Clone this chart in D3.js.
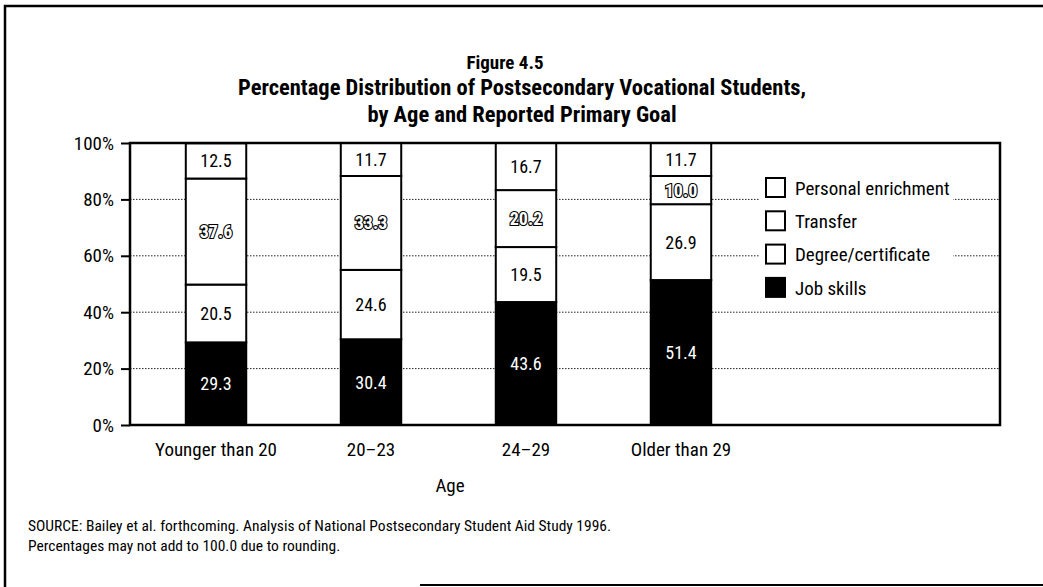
<!DOCTYPE html>
<html>
<head>
<meta charset="utf-8">
<script src="https://cdn.jsdelivr.net/npm/d3@7"></script>
<style>
  html, body { margin: 0; padding: 0; background: #fff; }
  svg { display: block; }
  text { font-family: "Roboto Condensed", "Liberation Sans Narrow", "Arial Narrow", "Open Sans", sans-serif; fill: #000; }
</style>
</head>
<body>
<svg id="chart" width="1043" height="587"></svg>
<script>
// Age groups along the x axis
const categories = ["Younger than 20", "20–23", "24–29", "Older than 29"];
// Primary goal shares (percent) per age group, bottom to top
const jobSkills = [29.3, 30.4, 43.6, 51.4];
const degreeCertificate = [20.5, 24.6, 19.5, 26.9];
const transfer = [37.6, 33.3, 20.2, 10.0];
const personalEnrichment = [12.5, 11.7, 16.7, 11.7];
const seriesNames = ["Job skills", "Degree/certificate", "Transfer", "Personal enrichment"];
const legendOrder = ["Personal enrichment", "Transfer", "Degree/certificate", "Job skills"];
const yTicks = [0, 20, 40, 60, 80, 100];

const rows = categories.map((c, i) => ({
  age: c,
  "Job skills": jobSkills[i],
  "Degree/certificate": degreeCertificate[i],
  "Transfer": transfer[i],
  "Personal enrichment": personalEnrichment[i]
}));

const svg = d3.select("#chart");

// plot frame
const plot = { left: 130, right: 1000, top: 143, bottom: 425 };

const x = d3.scaleBand()
  .domain(categories)
  .range([plot.left, 767])
  .paddingInner(0.61)
  .paddingOuter(0.36);

const y = d3.scaleLinear().domain([0, 100]).range([plot.bottom, plot.top]);

const fillOf = { "Job skills": "#000", "Degree/certificate": "#fff", "Transfer": "#fff", "Personal enrichment": "#fff" };

// outer figure border
svg.append("path")
  .attr("d", "M5,587 L5,6 L1043,6")
  .attr("fill", "none").attr("stroke", "#000").attr("stroke-width", 2.5);
svg.append("line")
  .attr("x1", 420).attr("x2", 1043).attr("y1", 585).attr("y2", 585)
  .attr("stroke", "#000").attr("stroke-width", 2);

// titles
svg.append("text").attr("x", 505).attr("y", 69).attr("text-anchor", "middle")
  .attr("font-size", 19).attr("font-weight", "bold").text("Figure 4.5");
svg.append("text").attr("x", 522).attr("y", 95).attr("text-anchor", "middle")
  .attr("font-size", 22.5).attr("font-weight", "bold")
  .text("Percentage Distribution of Postsecondary Vocational Students,");
svg.append("text").attr("x", 522).attr("y", 122).attr("text-anchor", "middle")
  .attr("font-size", 22.5).attr("font-weight", "bold")
  .text("by Age and Reported Primary Goal");

// dotted gridlines
svg.append("g").selectAll("line")
  .data(yTicks.filter(t => t > 0 && t < 100))
  .join("line")
  .attr("x1", plot.left).attr("x2", plot.right)
  .attr("y1", d => y(d)).attr("y2", d => y(d))
  .attr("stroke", "#222").attr("stroke-width", 1)
  .attr("stroke-dasharray", "1.5,1.5");

// y axis
const yAxis = d3.axisLeft(y).tickValues(yTicks).tickFormat(d => d + "%").tickSize(9).tickPadding(7);
const gy = svg.append("g").attr("transform", `translate(${plot.left},0)`).call(yAxis);
gy.select(".domain").remove();
gy.selectAll(".tick line").attr("stroke", "#000").attr("stroke-width", 2);
gy.selectAll(".tick text").attr("font-size", 19).attr("font-family", null);

// stacked bars
const stack = d3.stack().keys(seriesNames);
const stacked = stack(rows);

const layers = svg.append("g").selectAll("g")
  .data(stacked)
  .join("g");

layers.selectAll("rect")
  .data(d => d.map(v => ({ key: d.key, age: v.data.age, y0: v[0], y1: v[1] })))
  .join("rect")
  .attr("x", d => x(d.age))
  .attr("width", x.bandwidth())
  .attr("y", d => y(d.y1))
  .attr("height", d => y(d.y0) - y(d.y1))
  .attr("fill", d => fillOf[d.key])
  .attr("stroke", "#000")
  .attr("stroke-width", 2);

// value labels; transfer values are set in outlined figures
layers.selectAll("text")
  .data(d => d.map(v => ({ key: d.key, age: v.data.age, y0: v[0], y1: v[1], val: v.data[d.key] })))
  .join("text")
  .attr("x", d => x(d.age) + x.bandwidth() / 2)
  .attr("y", d => y((d.y0 + d.y1) / 2))
  .attr("dy", "0.36em")
  .attr("text-anchor", "middle")
  .attr("font-size", 18)
  .attr("font-weight", d => d.key === "Transfer" ? "bold" : "normal")
  .style("fill", d => d.key === "Job skills" ? "#fff" : (d.key === "Transfer" ? "#fff" : "#000"))
  .attr("stroke", d => d.key === "Transfer" ? "#000" : "none")
  .attr("stroke-width", 2.2)
  .attr("paint-order", "stroke")
  .text(d => d.val.toFixed(1));

// plot border
svg.append("rect")
  .attr("x", plot.left).attr("y", plot.top)
  .attr("width", plot.right - plot.left).attr("height", plot.bottom - plot.top)
  .attr("fill", "none").attr("stroke", "#000").attr("stroke-width", 2.5);

// x axis labels
svg.append("g").selectAll("text")
  .data(categories)
  .join("text")
  .attr("x", d => x(d) + x.bandwidth() / 2)
  .attr("y", 456)
  .attr("text-anchor", "middle")
  .attr("font-size", 19)
  .text(d => d);

svg.append("text").attr("x", 450).attr("y", 492).attr("text-anchor", "middle")
  .attr("font-size", 19).text("Age");

// legend
const legend = svg.append("g");
const legX = 765, legY0 = 187, legStep = 33.3;
legend.append("rect")
  .attr("x", legX - 6).attr("y", legY0 - 16)
  .attr("width", 953 - (legX - 6)).attr("height", legStep * 3 + 32)
  .attr("fill", "#fff");
const items = legend.selectAll("g.item")
  .data(legendOrder)
  .join("g")
  .attr("class", "item")
  .attr("transform", (d, i) => `translate(${legX},${legY0 + i * legStep})`);
items.append("rect")
  .attr("x", 1).attr("y", -9).attr("width", 19).attr("height", 19)
  .attr("fill", d => fillOf[d]).attr("stroke", "#000").attr("stroke-width", 2);
items.append("text")
  .attr("x", 30).attr("y", 1).attr("dy", "0.36em")
  .attr("font-size", 19).text(d => d);

// notes
svg.append("text").attr("x", 28).attr("y", 531).attr("font-size", 15.5)
  .text("SOURCE: Bailey et al. forthcoming. Analysis of National Postsecondary Student Aid Study 1996.");
svg.append("text").attr("x", 28).attr("y", 551).attr("font-size", 15.5)
  .text("Percentages may not add to 100.0 due to rounding.");
</script>
</body>
</html>
